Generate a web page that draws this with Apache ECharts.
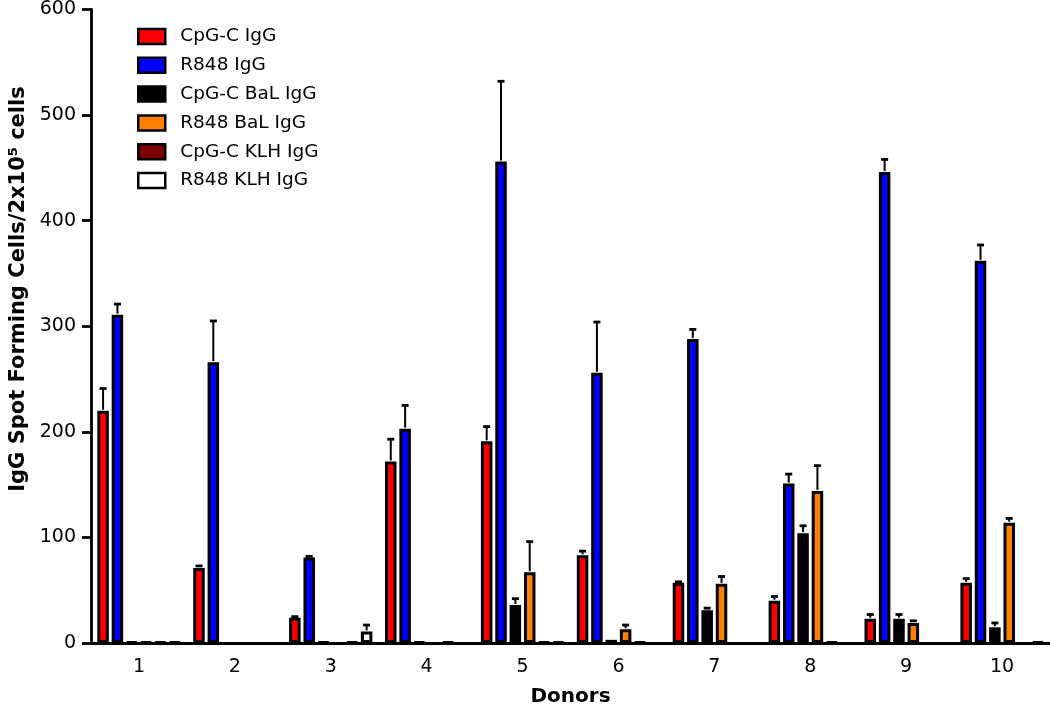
<!DOCTYPE html>
<html><head><meta charset="utf-8">
<script src="https://cdn.jsdelivr.net/npm/echarts@6/dist/echarts.min.js"></script>
<style>html,body{margin:0;padding:0;background:#fff}#c{width:1050px;height:712px}</style>
</head><body><div id="c"></div>
<script>
const donors = ['1','2','3','4','5','6','7','8','9','10'];
const seriesNames = ['CpG-C IgG','R848 IgG','CpG-C BaL IgG','R848 BaL IgG','CpG-C KLH IgG','R848 KLH IgG'];
const seriesColors = ['#ff0000','#0000ff','#000000','#ff8000','#7a0000','#ffffff'];
const cpgC       = [220, 71, 24, 172, 191, 83, 57, 40, 23, 57];
const cpgCErr    = [241, 73, 25, 193, 205, 87, 58, 44, 27, 61];
const r848       = [311, 266, 81, 203, 456, 256, 288, 151, 446, 362];
const r848Err    = [321, 305, 82, 225, 532, 304, 297, 160, 458, 377];
const cpgBal     = [1, 0, 1, 1, 36, 3, 31, 104, 23, 15];
const cpgBalErr  = [1, 0, 1, 1, 42, 3, 33, 111, 27, 19];
const r848Bal    = [1, 0, 0, 0, 67, 13, 56, 144, 19, 114];
const r848BalErr = [1, 0, 0, 0, 96, 17, 63, 168, 21, 118];
const cpgKlh     = [1, 0, 1, 1, 1, 1, 0, 1, 0, 0];
const cpgKlhErr  = [1, 0, 1, 1, 1, 1, 0, 1, 0, 0];
const r848Klh    = [1, 0, 11, 0, 1, 0, 0, 0, 0, 1];
const r848KlhErr = [1, 0, 17, 0, 1, 0, 0, 0, 0, 1];
const yTicks = [0, 100, 200, 300, 400, 500, 600];

const values = [cpgC, r848, cpgBal, r848Bal, cpgKlh, r848Klh];
const errs = [cpgCErr, r848Err, cpgBalErr, r848BalErr, cpgKlhErr, r848KlhErr];

const BAR_W = 11.5, GAP_PX = 2.85;
const N = values.length;
const totalW = N * BAR_W + (N - 1) * GAP_PX;
function offsetOf(k){ return -totalW/2 + BAR_W/2 + k*(BAR_W+GAP_PX); }

const FONT = '"DejaVu Sans", "Liberation Sans", Arial, sans-serif';
const series = [];
values.forEach((v, k) => {
  series.push({
    name: seriesNames[k], type: 'bar', data: v.map(x => x === 0 ? null : x), barWidth: BAR_W,
    barGap: (GAP_PX/BAR_W*100).toFixed(1) + '%',
    itemStyle: { color: seriesColors[k], borderColor: '#000', borderWidth: 3 },
    emphasis: { disabled: true }, z: 2, animation: false
  });
});
values.forEach((v, k) => {
  series.push({
    type: 'custom', name: 'err' + k, z: 3, animation: false,
    data: v.map((val, i) => [i, val, errs[k][i]]),
    renderItem: function (params, api) {
      const i = api.value(0), val = api.value(1), e = api.value(2);
      if (!(e > val)) return null;
      const base = api.coord([i, val]);
      const top = api.coord([i, e]);
      const x = base[0] + offsetOf(k);
      return { type: 'group', children: [
        { type: 'line', shape: { x1: x, y1: base[1] - 1, x2: x, y2: top[1] }, style: { stroke: '#000', lineWidth: 2 } },
        { type: 'line', shape: { x1: x - 3.5, y1: top[1], x2: x + 3.5, y2: top[1] }, style: { stroke: '#000', lineWidth: 2.8 } }
      ]};
    }
  });
});

const chart = echarts.init(document.getElementById('c'), null, { renderer: 'canvas' });
chart.setOption({
  animation: false,
  backgroundColor: '#fff',
  grid: { left: 91, right: 0, top: 9, bottom: 65, containLabel: false },
  legend: {
    data: seriesNames, orient: 'vertical', left: 132, top: 22,
    itemWidth: 27, itemHeight: 15, itemGap: 9.8, icon: 'rect',
    itemStyle: { borderColor: '#000', borderWidth: 2.5 },
    textStyle: { fontFamily: FONT, fontSize: 18.5, lineHeight: 17, color: '#000', padding: [0,0,0,10] },
    selectedMode: false
  },
  xAxis: {
    type: 'category', data: donors,
    name: 'Donors', nameLocation: 'middle', nameGap: 44,
    nameTextStyle: { fontFamily: FONT, fontSize: 20, fontWeight: 'bold', color: '#000' },
    axisLine: { lineStyle: { color: '#000', width: 2.8 } },
    axisTick: { alignWithLabel: true, length: 8, lineStyle: { color: '#000', width: 2.8 } },
    axisLabel: { fontFamily: FONT, fontSize: 19, color: '#000', margin: 15 }
  },
  yAxis: {
    type: 'value', min: 0, max: 600, interval: 100,
    axisLine: { show: true, lineStyle: { color: '#000', width: 2.8 } },
    axisTick: { show: true, length: 9, lineStyle: { color: '#000', width: 2.8 } },
    splitLine: { show: false },
    axisLabel: { fontFamily: FONT, fontSize: 19, color: '#000', margin: 15,
      formatter: v => yTicks.includes(v) ? String(v) : '' }
  },
  graphic: [{
    type: 'text', x: 19, y: 289, rotation: Math.PI / 2,
    style: {
      text: '{b|IgG Spot Forming Cells/2x10}{s|5}{b| cells}',
      align: 'center', verticalAlign: 'middle',
      rich: {
        b: { fontFamily: FONT, fontSize: 21, fontWeight: 'bold', fill: '#000' },
        s: { fontFamily: FONT, fontSize: 13, fontWeight: 'bold', fill: '#000', padding: [0, 0, 10, 0] }
      }
    }
  }],
  series: series
});
</script></body></html>
